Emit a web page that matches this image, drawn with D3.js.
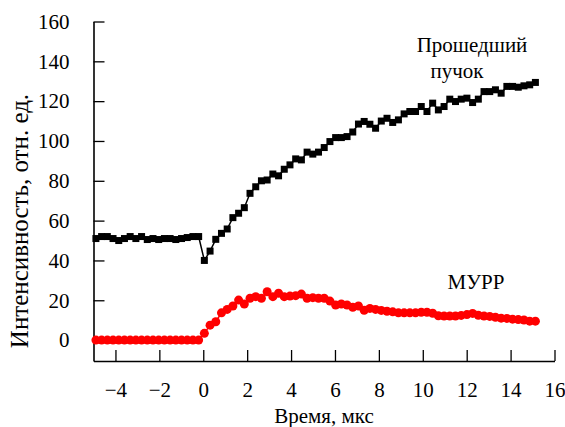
<!DOCTYPE html>
<html>
<head>
<meta charset="utf-8">
<script src="https://cdn.jsdelivr.net/npm/d3@7"></script>
<style>
  body { margin: 0; background: #fff; }
</style>
</head>
<body>
<svg id="chart" width="565" height="427"></svg>
<script>
// time, mks
var time = [
  -4.89, -4.63, -4.37, -4.11, -3.85, -3.59, -3.33, -3.07, -2.81, -2.55,
  -2.29, -2.03, -1.77, -1.51, -1.25, -0.99, -0.73, -0.47, -0.21,
  0.05, 0.31, 0.57, 0.83, 1.09, 1.35, 1.61, 1.87, 2.13, 2.39,
  2.65, 2.91, 3.17, 3.43, 3.69, 3.95, 4.21, 4.47, 4.73, 4.99,
  5.25, 5.51, 5.77, 6.03, 6.29, 6.55, 6.81, 7.07, 7.33, 7.59,
  7.85, 8.11, 8.37, 8.63, 8.89, 9.15, 9.41, 9.67, 9.93, 10.19,
  10.45, 10.71, 10.97, 11.23, 11.49, 11.75, 12.01, 12.27, 12.53, 12.79,
  13.05, 13.31, 13.57, 13.83, 14.09, 14.35, 14.61, 14.87, 15.13
];

// transmitted beam
var beam = [
  51, 52, 52, 51, 50, 51, 52, 51, 52, 50.5,
  51, 50.5, 51, 51, 50.5, 51, 51.5, 52, 52,
  40, 44.7, 50.6, 53.6, 55.8, 61.5, 63.7, 66.5, 73.7, 77,
  80, 80.4, 83.4, 82.5, 85.8, 88, 91, 90.5, 94.4, 93.4,
  94.4, 96.7, 99.7, 101.7, 101.7, 102.2, 104.5, 108.5, 109.8, 108.4,
  106.4, 110, 111.4, 109.3, 110.6, 113.6, 114.8, 114.8, 117.3, 114.8,
  119, 115.6, 117.3, 121, 119.8, 121, 121.5, 119.3, 121, 124.8,
  124.8, 125.7, 124, 127.4, 127.4, 127, 127.7, 128.2, 129.4
];

// SAXS (МУРР)
var saxs = [
  0, 0, 0, 0, 0, 0, 0, 0, 0, 0,
  0, 0, 0, 0, 0, 0, 0, 0, 0,
  3.4, 7.5, 9.2, 13.7, 15.4, 17.1, 20.1, 18.1, 21, 21.8,
  21, 24.3, 21.8, 23.5, 21.8, 22.1, 22.3, 23.1, 21, 21.3,
  21, 21, 19.6, 17.6, 18.1, 17.6, 16.5, 17.1, 15, 15.9,
  15.4, 14.9, 14.5, 14.2, 13.7, 13.7, 13.7, 13.7, 14, 14,
  13.5, 12.2, 12.1, 12.1, 12.1, 12.4, 12.8, 13.4, 12.5, 12.1,
  11.9, 11.5, 11, 10.9, 10.5, 10.3, 10.1, 9.5, 9.5
];

var xTicks = [-4, -2, 0, 2, 4, 6, 8, 10, 12, 14, 16];
var yTicks = [0, 20, 40, 60, 80, 100, 120, 140, 160];

var serif = "'Liberation Serif'";

var svg = d3.select("#chart");
var plotL = 93.5, plotR = 554.5, plotT = 21.5, plotB = 361;

var x = d3.scaleLinear().domain([-5, 16]).range([plotL, plotR]);
var y = d3.scaleLinear().domain([-10.5, 160]).range([plotB, plotT]);

var beamData = time.map(function(t, i) { return [t, beam[i]]; });
var saxsData = time.map(function(t, i) { return [t, saxs[i]]; });

// axes (ticks inside)
var yAxis = d3.axisLeft(y).tickValues(yTicks).tickSizeInner(-11).tickSizeOuter(0).tickPadding(24);
var xAxis = d3.axisBottom(x).tickValues(xTicks).tickSizeInner(-11).tickSizeOuter(0).tickPadding(21);

var gy = svg.append("g").attr("transform", "translate(" + plotL + ",0)").call(yAxis);
var gx = svg.append("g").attr("transform", "translate(0," + plotB + ")").call(xAxis);

[gx, gy].forEach(function(g) {
  g.style("font-family", serif).style("font-size", "21px");
  g.select(".domain").attr("stroke", "#000").attr("stroke-width", 1.6);
  g.selectAll(".tick line").attr("stroke", "#000").attr("stroke-width", 1.3);
  g.selectAll(".tick text").style("font-family", serif).style("font-size", "21px").attr("fill", "#000");
});

var line = d3.line().x(function(d) { return x(d[0]); }).y(function(d) { return y(d[1]); });

svg.append("path").datum(saxsData)
  .attr("d", line).attr("fill", "none").attr("stroke", "#ff0000").attr("stroke-width", 1.5);
svg.selectAll("circle.saxs").data(saxsData).enter().append("circle")
  .attr("class", "saxs")
  .attr("cx", function(d) { return x(d[0]); })
  .attr("cy", function(d) { return y(d[1]); })
  .attr("r", 4.5)
  .attr("fill", "#ff0000");

svg.append("path").datum(beamData)
  .attr("d", line).attr("fill", "none").attr("stroke", "#000").attr("stroke-width", 1.5);
svg.selectAll("rect.beam").data(beamData).enter().append("rect")
  .attr("class", "beam")
  .attr("x", function(d) { return x(d[0]) - 3.5; })
  .attr("y", function(d) { return y(d[1]) - 3.5; })
  .attr("width", 7).attr("height", 7)
  .attr("fill", "#000");

// labels
function label(tx, ty, str, size, rot) {
  var t = svg.append("text")
    .attr("text-anchor", "middle")
    .style("font-family", serif)
    .style("font-size", size + "px")
    .attr("fill", "#000")
    .text(str);
  if (rot) t.attr("transform", "translate(" + tx + "," + ty + ") rotate(-90)");
  else t.attr("x", tx).attr("y", ty);
  return t;
}

label((plotL + plotR) / 2, 423, "Время, мкс", 21);
label(28, 221, "Интенсивность, отн. ед.", 25, true);
label(472, 52, "Прошедший", 21);
label(457, 78, "пучок", 21);
label(476, 289, "МУРР", 21);
</script>
</body>
</html>
